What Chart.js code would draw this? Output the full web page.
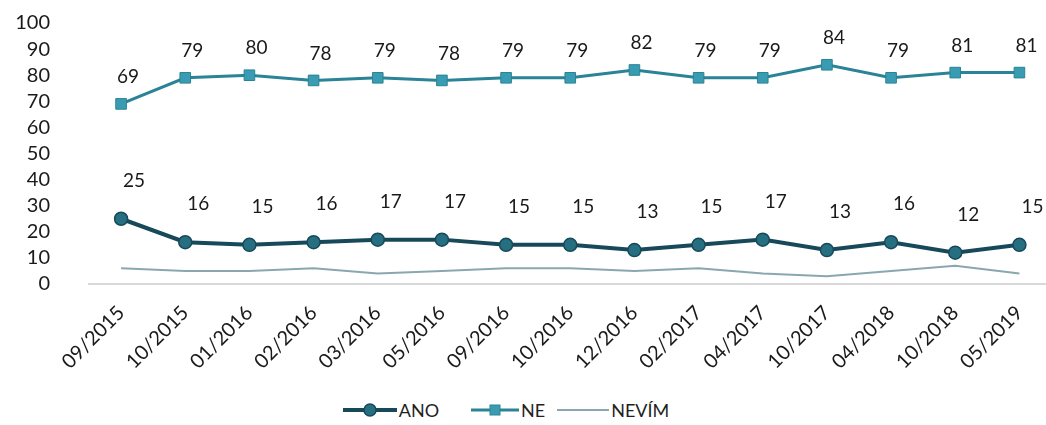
<!DOCTYPE html>
<html>
<head>
<meta charset="utf-8">
<script src="https://cdn.jsdelivr.net/npm/chart.js@4"></script>
<style>
  html, body { margin: 0; padding: 0; background: #fff; width: 1046px; height: 425px; overflow: hidden; }
  #clip { position: absolute; left: 0; top: 0; width: 1046px; height: 395px; overflow: hidden; }
  #wrap { position: absolute; left: 0; top: -20px; width: 1060px; height: 415px; }
  #legend { position: absolute; left: 0; top: 398px; width: 1046px; height: 24px; display: flex; justify-content: center; align-items: center; font-family: Lato, "Open Sans", sans-serif; font-size: 18px; color: #1f1f1f; }
  .item { display: flex; align-items: center; }
  .item svg { margin-right: 2px; }
</style>
</head>
<body>
<div id="clip"><div id="wrap"><canvas id="c"></canvas></div></div>
<div id="legend">
  <div class="item" style="margin-left:-34px"><svg width="54" height="20"><line x1="0" y1="10" x2="54" y2="10" stroke="#17495a" stroke-width="4"/><circle cx="27" cy="10" r="6" fill="#266f80" stroke="#17495a" stroke-width="1.5"/></svg><span>ANO</span></div>
  <div class="item" style="margin-left:32px"><svg width="48" height="20"><line x1="0" y1="10" x2="48" y2="10" stroke="#2a8396" stroke-width="3"/><rect x="19" y="5" width="10" height="10" fill="#3a9cb2" stroke="#2a8396" stroke-width="1"/></svg><span>NE</span></div>
  <div class="item" style="margin-left:12px"><svg width="52" height="20"><line x1="0" y1="10" x2="52" y2="10" stroke="#8aa7b0" stroke-width="2"/></svg><span>NEVÍM</span></div>
</div>
<script>
const categories = ['09/2015','10/2015','01/2016','02/2016','03/2016','05/2016','09/2016','10/2016','12/2016','02/2017','04/2017','10/2017','04/2018','10/2018','05/2019'];
const ano   = [25,16,15,16,17,17,15,15,13,15,17,13,16,12,15];
const ne    = [69,79,80,78,79,78,79,79,82,79,79,84,79,81,81];
const nevim = [6,5,5,6,4,5,6,6,5,6,4,3,5,7,4];
const yTickValues = [0,10,20,30,40,50,60,70,80,90,100];

const FONT = 'Lato, "Open Sans", sans-serif';

const labelPlugin = {
  id: 'valueLabels',
  afterDatasetsDraw(chart) {
    const ctx = chart.ctx;
    ctx.save();
    ctx.font = '19px ' + FONT;
    ctx.fillStyle = '#1a1a1a';
    ctx.textAlign = 'center';
    ctx.textBaseline = 'middle';
    chart.data.datasets.forEach((ds, di) => {
      if (!ds.valueLabel) return;
      const meta = chart.getDatasetMeta(di);
      meta.data.forEach((pt, i) => {
        ctx.fillText(String(ds.data[i]), pt.x + ds.valueLabel.dx, pt.y - ds.valueLabel.dy);
      });
    });
    ctx.restore();
  }
};

new Chart(document.getElementById('c'), {
  type: 'line',
  data: {
    labels: categories,
    datasets: [
      {
        label: 'ANO', data: ano,
        borderColor: '#17495a', borderWidth: 4,
        pointStyle: 'circle', pointRadius: 6.5, pointBackgroundColor: '#266f80', pointBorderColor: '#17495a', pointBorderWidth: 1.5,
        tension: 0, valueLabel: { dx: 13, dy: 38 }, order: 1
      },
      {
        label: 'NE', data: ne,
        borderColor: '#2a8396', borderWidth: 3,
        pointStyle: 'rect', pointRadius: 7.5, pointBackgroundColor: '#3a9cb2', pointBorderColor: '#2a8396', pointBorderWidth: 1,
        tension: 0, valueLabel: { dx: 7, dy: 27 }, order: 2
      },
      {
        label: 'NEVÍM', data: nevim,
        borderColor: '#8aa7b0', borderWidth: 2, pointRadius: 0,
        tension: 0, order: 3
      }
    ]
  },
  options: {
    responsive: true, maintainAspectRatio: false, animation: false, devicePixelRatio: 1,
    layout: { padding: { top: 0, right: 0, left: 0, bottom: 0 } },
    plugins: { legend: { display: false }, tooltip: { enabled: false } },
    scales: {
      x: {
        offset: true,
        grid: { display: false },
        border: { display: true, color: '#d9d9d9', width: 2 },
        ticks: { minRotation: 45, maxRotation: 45, color: '#1a1a1a', font: { family: FONT, size: 20 }, padding: 9, autoSkip: false },
        afterFit(s) { s.height = 111; }
      },
      y: {
        min: 0, max: 100,
        grid: { display: false },
        border: { display: false },
        afterBuildTicks(s) { s.ticks = yTickValues.map(v => ({ value: v })); },
        ticks: { color: '#1a1a1a', font: { family: FONT, size: 20 }, padding: 31, autoSkip: false },
        afterFit(s) { s.width = 89; }
      }
    }
  },
  plugins: [labelPlugin]
});
</script>
</body>
</html>
